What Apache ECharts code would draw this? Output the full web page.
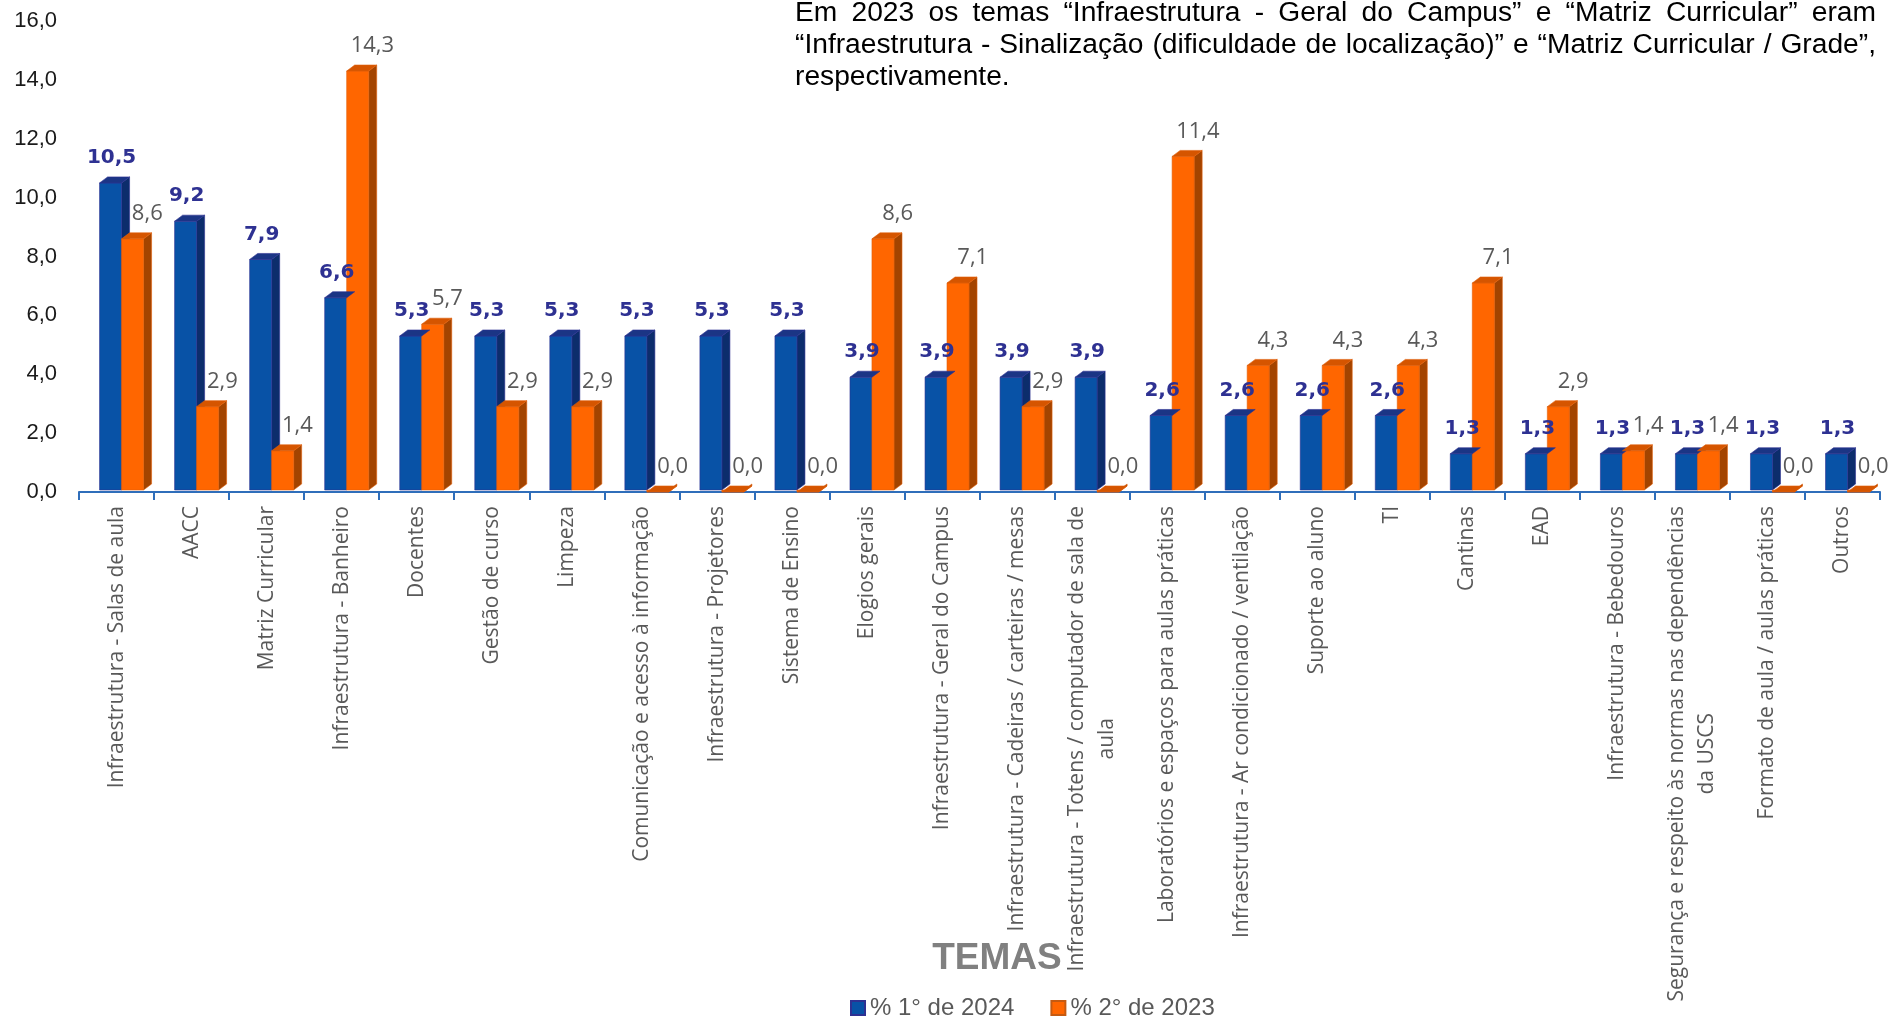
<!DOCTYPE html>
<html>
<head>
<meta charset="utf-8">
<script src="https://cdn.jsdelivr.net/npm/echarts@6/dist/echarts.min.js"></script>
<style>
html,body{margin:0;padding:0;background:#fff;}
#chart{width:1897px;height:1016px;}
</style>
</head>
<body>
<div id="chart"></div>
<script>
// ---------- DATA ----------
const categories = [
  'Infraestrutura - Salas de aula',
  'AACC',
  'Matriz Curricular',
  'Infraestrutura - Banheiro',
  'Docentes',
  'Gestão de curso',
  'Limpeza',
  'Comunicação e acesso à informação',
  'Infraestrutura - Projetores',
  'Sistema de Ensino',
  'Elogios gerais',
  'Infraestrutura - Geral do Campus',
  'Infraestrutura - Cadeiras / carteiras / mesas',
  'Infraestrutura - Totens / computador de sala de\naula',
  'Laboratórios e espaços para aulas práticas',
  'Infraestrutura - Ar condicionado / ventilação',
  'Suporte ao aluno',
  'TI',
  'Cantinas',
  'EAD',
  'Infraestrutura - Bebedouros',
  'Segurança e respeito às normas nas dependências\nda USCS',
  'Formato de aula / aulas práticas',
  'Outros'
];
const seriesNames = ['% 1° de 2024', '% 2° de 2023'];
const values2024 = [10.5, 9.2, 7.9, 6.6, 5.3, 5.3, 5.3, 5.3, 5.3, 5.3, 3.9, 3.9, 3.9, 3.9, 2.6, 2.6, 2.6, 2.6, 1.3, 1.3, 1.3, 1.3, 1.3, 1.3];
const values2023 = [8.6, 2.9, 1.4, 14.3, 5.7, 2.9, 2.9, 0.0, 0.0, 0.0, 8.6, 7.1, 2.9, 0.0, 11.4, 4.3, 4.3, 4.3, 7.1, 2.9, 1.4, 1.4, 0.0, 0.0];
const yTicks = [0, 2, 4, 6, 8, 10, 12, 14, 16];
const axisTitle = 'TEMAS';
const noteLines = [
  'Em 2023 os temas “Infraestrutura - Geral do Campus” e “Matriz Curricular” eram',
  '“Infraestrutura - Sinalização (dificuldade de localização)” e “Matriz Curricular / Grade”,',
  'respectivamente.'
];

// ---------- STYLE ----------
const fmt = v => v.toFixed(1).replace('.', ',');
const styles = [
  {front:'#0852A6', side:'#0C2D6C', top:'#1B3585', stroke:'#2E3192',
   label:{fill:'#2E3192', fontWeight:'bold', fontSize:20, fontFamily:'"DejaVu Sans", Verdana, sans-serif'}},
  {front:'#FF6600', side:'#A34400', top:'#D55500', stroke:'#E0600A',
   label:{fill:'#595959', fontWeight:'normal', fontSize:22, fontFamily:'"Open Sans", sans-serif'}}
];

function make3DBar(si) {
  const st = styles[si];
  return function (params, api) {
    const idx = api.value(0);
    const val = api.value(1);
    const base = api.coord([idx, 0]);
    const top = api.coord([idx, val]);
    const bw = api.size([1, 0])[0];
    const w = bw * 0.293;
    const dx = bw * 0.107, dy = bw * 0.08;
    const x0 = base[0] - bw * 0.226 + si * w;
    const x1 = x0 + w;
    const yb = base[1] - 2, yt = top[1];
    const children = [];
    children.push({type:'polygon', z2: 1,
      shape:{points:[[x1,yt],[x1+dx,yt-dy],[x1+dx,yb-dy],[x1,yb]]},
      style:{fill:st.side, stroke:st.stroke, lineWidth:0.6}});
    children.push({type:'polygon', z2: 2,
      shape:{points:[[x0,yt],[x1,yt],[x1,yb],[x0,yb]]},
      style:{fill:st.front, stroke:st.stroke, lineWidth:0.6}});
    children.push({type:'polygon', z2: 3,
      shape:{points:[[x0,yt],[x0+dx,yt-dy],[x1+dx,yt-dy],[x1,yt]]},
      style:{fill:st.top, stroke:st.stroke, lineWidth:0.6}});
    const lx = si === 0 ? x0 + w / 2 + 1 : x1 + bw * 0.05;
    children.push({type:'text', z2: 100,
      x: lx, y: yt - 25,
      style:Object.assign({text: fmt(val), align:'center', verticalAlign:'middle'}, st.label)});
    return {type:'group', children};
  };
}

// ---------- NOTE (justified, condensed) ----------
const NOTE_X = 795, NOTE_W = 1081, NOTE_FS = 27;
const noteFamily = '"Liberation Sans", Arial, sans-serif';
const mctx = document.createElement('canvas').getContext('2d');
mctx.font = NOTE_FS + 'px ' + noteFamily;
const w2 = mctx.measureText(noteLines[1]).width;
const noteScale = (NOTE_W * 0.99) / w2;
const graphics = [];
noteLines.forEach((line, li) => {
  const y = 14 + li * 32;
  const words = line.split(' ');
  const widths = words.map(w => mctx.measureText(w).width * noteScale);
  const spaceW = mctx.measureText(' ').width * noteScale;
  const total = widths.reduce((a, b) => a + b, 0);
  const gap = li === noteLines.length - 1 ? spaceW : (NOTE_W - total) / (words.length - 1);
  let x = NOTE_X;
  words.forEach((wd, i) => {
    graphics.push({type:'text', x: x, y: y, scaleX: noteScale, silent:true,
      style:{text: wd, fill:'#000', fontSize: NOTE_FS, fontFamily: noteFamily, verticalAlign:'middle', align:'left'}});
    x += widths[i] + gap;
  });
});
graphics.push({type:'text', x: 997, y: 959, z: 0,
  style:{text: axisTitle, fill:'#808080', fontSize:37, fontWeight:'bold', fontFamily:'"Liberation Sans", Arial, sans-serif', align:'center', verticalAlign:'middle'}});

// ---------- CHART ----------
const chart = echarts.init(document.getElementById('chart'));
chart.setOption({
  animation: false,
  backgroundColor: '#fff',
  graphic: graphics,
  legend: {
    data: seriesNames,
    left: 845, top: 991,
    icon: 'rect', itemWidth: 14, itemHeight: 14, itemGap: 36,
    textStyle: {fontSize: 24, color: '#595959', fontFamily: '"Liberation Sans", Arial, sans-serif'}
  },
  grid: {left: 79, right: 17, top: 21, bottom: 524, containLabel: false},
  xAxis: {
    type: 'category',
    data: categories,
    boundaryGap: true,
    axisLine: {show: true, lineStyle: {color: '#2F6EBA', width: 2}},
    axisTick: {show: true, length: 8, lineStyle: {color: '#2F6EBA', width: 2}},
    axisLabel: {
      interval: 0, rotate: 90, margin: 14,
      formatter: function (v) {
        const p = v.split('\n');
        if (p.length === 1) return '{a|' + v + '}';
        return '{a|' + p[0] + '}\n{b|' + p[1] + '}';
      },
      rich: {
        a: {fontSize: 21, color: '#595959', fontFamily: '"Open Sans", sans-serif', lineHeight: 30},
        b: {fontSize: 21, color: '#595959', fontFamily: '"Open Sans", sans-serif', lineHeight: 30, align: 'center'}
      }
    },
    splitLine: {show: false}
  },
  yAxis: {
    type: 'value',
    min: yTicks[0], max: yTicks[yTicks.length - 1], interval: yTicks[1] - yTicks[0],
    axisLine: {show: false}, axisTick: {show: false}, splitLine: {show: false},
    axisLabel: {fontSize: 22, color: '#1a1a1a', margin: 22, fontFamily: '"Liberation Sans", Arial, sans-serif', formatter: fmt}
  },
  series: [
    {name: seriesNames[0], type: 'custom', renderItem: make3DBar(0),
     itemStyle: {color: styles[0].front, borderColor: styles[0].stroke, borderWidth: 1},
     encode: {x: 0, y: 1},
     data: values2024.map((v, i) => [i, v])},
    {name: seriesNames[1], type: 'custom', renderItem: make3DBar(1),
     itemStyle: {color: styles[1].front, borderColor: '#C55A11', borderWidth: 1},
     encode: {x: 0, y: 1},
     data: values2023.map((v, i) => [i, v])}
  ]
});
</script>
</body>
</html>
